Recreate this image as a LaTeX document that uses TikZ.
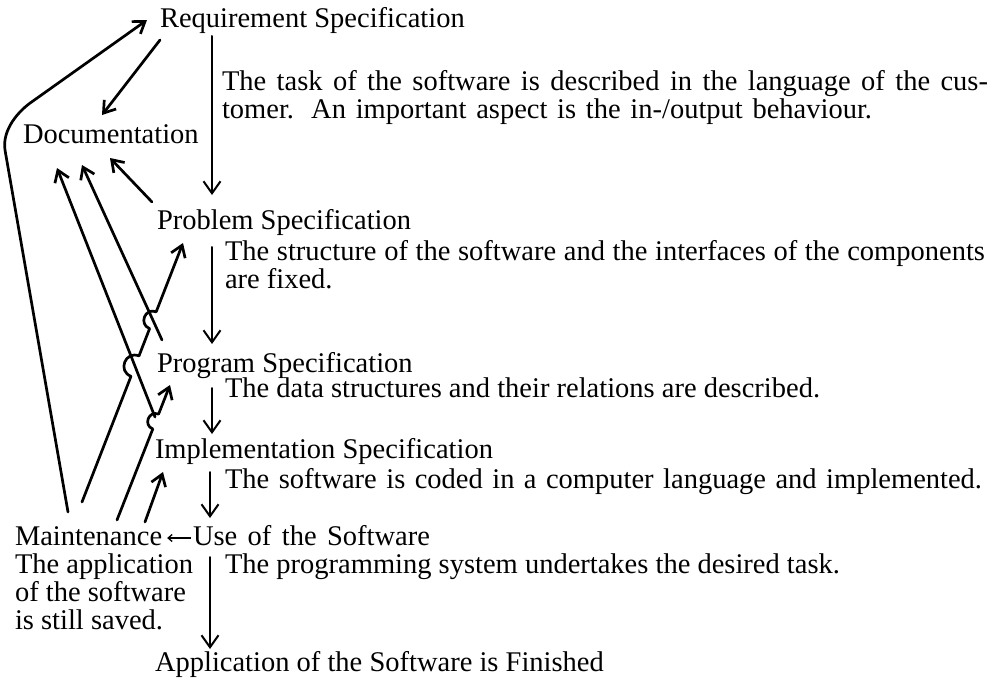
\documentclass[tikz,border=0pt]{standalone}
\usepackage{fontspec}
\setmainfont{Liberation Serif}
\usetikzlibrary{arrows.meta}
\newcommand\fsz{\fontsize{28.5}{28}\selectfont}
\begin{document}
\begin{tikzpicture}[x=1pt,y=-1pt,
  lbl/.style={anchor=base west, inner sep=0pt, outer sep=0pt, text height=20pt, text depth=6pt, font=\fsz},
  flow/.style={line width=2pt, line cap=round, -{Straight Barb[length=12pt,width=17pt]}},
  doclink/.style={line width=2.7pt, line cap=round, line join=round, -{Straight Barb[length=11pt,width=15pt]}},
  tiny/.style={line width=1.3pt, -{Straight Barb[length=4pt,width=7pt]}, shorten >=5pt, shorten <=2pt}]
\useasboundingbox (0,0) rectangle (1000,682);

% stage nodes
\node[lbl] (req)   at (160,28)  {Requirement Specification};
\node[lbl] (doc)   at (23,143)  {Documentation};
\node[lbl] (prob)  at (157,229) {Problem Specification};
\node[lbl] (prog)  at (157,372) {Program Specification};
\node[lbl] (impl)  at (155,458) {Implementation Specification};
\node[lbl] (maint) at (15,545)  {Maintenance};
\node[lbl] (use)   at (193,545) {\hbox to 237pt{Use of the Software}};
\node[lbl] (fin)   at (155,671) {Application of the Software is Finished};

% maintenance description
\node[lbl] (md1) at (15,573) {The application};
\node[lbl] (md2) at (15,601) {of the software};
\node[lbl] (md3) at (15,629) {is still saved.};

% descriptions
\node[lbl] (t1a) at (222,91)  {\hbox to 766pt{The task of the software is described in the language of the cus-}};
\node[lbl] (t1b) at (222,118) {\hbox to 650pt{tomer. An important aspect is the in-/output behaviour.}};
\node[lbl] (t2a) at (225,260) {\hbox to 760pt{The structure of the software and the interfaces of the components}};
\node[lbl] (t2b) at (225,288) {are fixed.};
\node[lbl] (t3)  at (225,397) {The data structures and their relations are described.};
\node[lbl] (t4)  at (225,488) {\hbox to 757pt{The software is coded in a computer language and implemented.}};
\node[lbl] (t5)  at (225,573) {The programming system undertakes the desired task.};

% main vertical flow
\draw[flow] ([shift={(52,2)}]req.south west) -- ([shift={(55,-14)}]prob.north west);
\draw[flow] ([shift={(55,12)}]prob.south west) -- ([shift={(55,-8)}]prog.north west);
\draw[flow] ([shift={(55,10)}]prog.south west) -- ([shift={(57,-4)}]impl.north west);
\draw[flow] ([shift={(55,8)}]impl.south west) -- ([shift={(17,-7)}]use.north west);
\draw[flow] ([shift={(17,6)}]use.south west) -- ([shift={(55,-2)}]fin.north west);

% use -> maintenance
\draw[tiny] (use.west) -- (maint.east);

% links to documentation
\draw[doclink] ([shift={(0,6)}]req.south west) -- ([shift={(79,-8)}]doc.north west);
\draw[doclink] ([shift={(-5,-7)}]prob.north west) -- ([shift={(87,9)}]doc.south west);
\draw[doclink] ([shift={(5,-12)}]prog.north west) -- ([shift={(59,16)}]doc.south west);
\draw[doclink] ([shift={(0,-21)}]impl.north west) -- ([shift={(34,19)}]doc.south west);

% maintenance back links
\draw[doclink] ([shift={(53,-13)}]maint.north west) -- (5,150)
  .. controls (2,130) and (18,111) .. (33,101) -- ([shift={(-13,-1)}]req.west);
\draw[doclink] ([shift={(67,-23)}]maint.north west) -- (131.0,376.3)
  .. controls (117.3,371.0) and (125.3,350.6) .. (139.0,355.9) -- (149.6,328.6)
  .. controls (138.4,324.2) and (145.0,307.4) .. (156.2,311.8)
  -- ([shift={(26,8)}]prob.south west);
\draw[doclink] ([shift={(102,-5)}]maint.north west) -- (152.8,429.0)
  .. controls (142.9,425.1) and (148.7,410.2) .. (158.6,414.1)
  -- ([shift={(13,7)}]prog.south west);
\draw[doclink] ([shift={(130,-3)}]maint.north west) -- ([shift={(8,8)}]impl.south west);
\end{tikzpicture}
\end{document}
